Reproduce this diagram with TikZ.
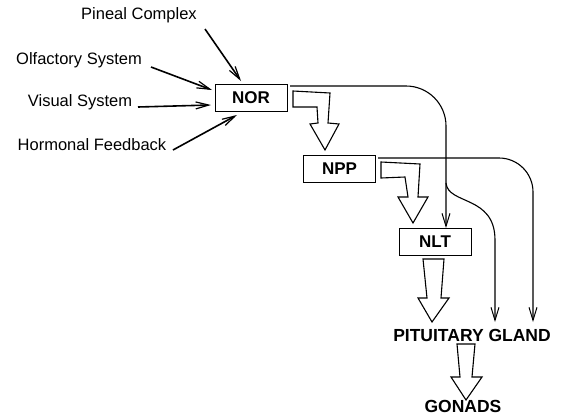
\documentclass[tikz,border=0pt]{standalone}
\usepackage{fontspec}
\setmainfont{Liberation Sans}
\usetikzlibrary{arrows.meta,calc}
\begin{document}
\begin{tikzpicture}[x=1pt,y=-1pt,
 lab/.style={font=\fontsize{16.5}{19}\selectfont, inner sep=0pt},
 box/.style={draw, line width=1pt, fill=white, minimum width=72pt, minimum height=27pt, inner sep=0pt, font=\fontsize{17}{20}\selectfont\bfseries},
 big/.style={font=\fontsize{17.5}{20}\selectfont\bfseries, inner sep=0pt},
 inarrow/.style={line width=1.6pt, -{Straight Barb[length=13pt,width=7pt,line width=1.2pt]}},
 conn/.style={line width=1.1pt, -{Straight Barb[length=13pt,width=8pt,line width=1pt]}},
 block/.style={draw, line width=1.1pt, fill=white, line join=miter}]
\useasboundingbox (0,0) rectangle (563,418);

% text nodes
\node[lab] (pineal) at (139,15) {Pineal Complex};
\node[lab] (olf) at (79,60) {Olfactory System};
\node[lab] (vis) at (80,102) {Visual System};
\node[lab] (horm) at (92,145) {Hormonal Feedback};
\node[big] (pit) at (472,335) {PITUITARY GLAND};
\node[big] (gon) at (463,406) {GONADS};

% connectors
\coordinate (c1) at (446,183);
\draw[conn, rounded corners=40pt] (290,86) -- (446,86) -- (446,228);
\draw[conn] (c1) .. controls (448,205) and (495,195) .. (495,240) -- (495,322);
\draw[conn, rounded corners=34pt] (378,158) -- (533,158) -- (533,322);

% boxes
\node[box] (nor) at (251,97.5) {NOR};
\node[box] (npp) at (339.5,168.5) {NPP};
\node[box] (nlt) at (435,241.5) {NLT};

% input arrows
\draw[inarrow] (205,29) -- (241,81);
\draw[inarrow] (151,67) -- (212,90);
\draw[inarrow] (138,107) -- (211,105);
\draw[inarrow] (173,150) -- (237,115);

% block arrows
\draw[block] (293,91)--(330,93)--(328,123)--(339,124)--(325,150)--(310,124)--(318,123)--(317,107)--(293,107)--cycle;
\draw[block] (381,162)--(420,164)--(418,197)--(428,197)--(413,223)--(398,197)--(408,197)--(405,177)--(381,178)--cycle;
\draw[block] (423,259)--(444,259)--(441,298)--(449,298)--(432,322)--(418,298)--(427,298)--cycle;
\draw[block] (457,344)--(475,344)--(472,377)--(482,377)--(466,400)--(451,377)--(460,377)--cycle;
\end{tikzpicture}
\end{document}
